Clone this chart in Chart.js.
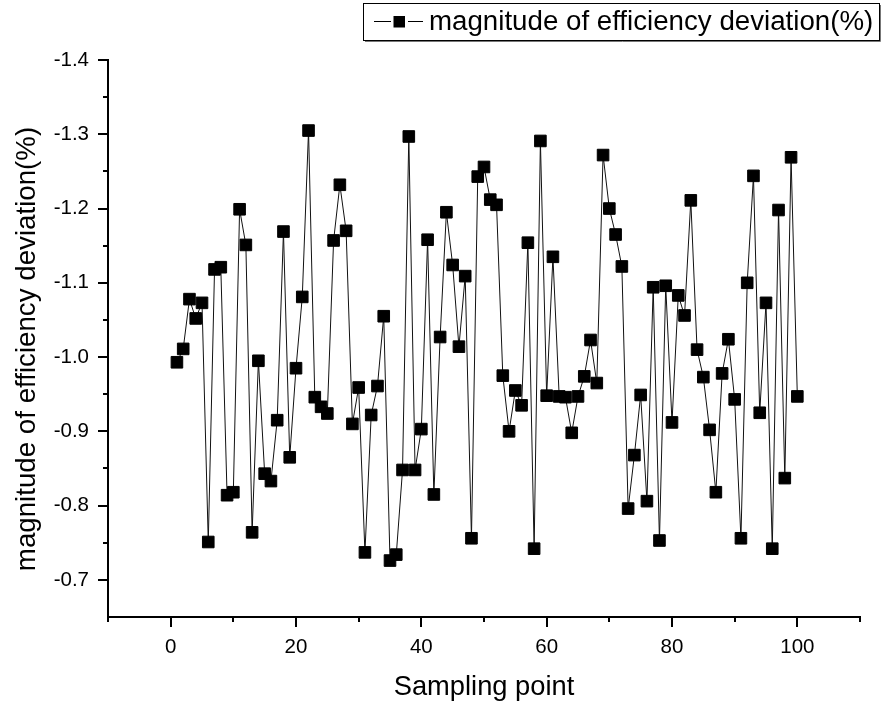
<!DOCTYPE html>
<html>
<head>
<meta charset="utf-8">
<title>magnitude of efficiency deviation</title>
<script src="https://cdn.jsdelivr.net/npm/chart.js@4/dist/chart.umd.min.js"></script>
<style>
  html, body { margin: 0; padding: 0; background: #fff; }
  canvas { display: block; }
</style>
</head>
<body>
<canvas id="chart" width="885" height="709"></canvas>
<script>
// Sampling point index (1..100)
const samplingPoints = Array.from({ length: 100 }, (_, i) => i + 1);

// Magnitude of efficiency deviation (%) at each sampling point
const deviation = [
  -0.993, -1.011, -1.078, -1.052, -1.073, -0.751, -1.118, -1.121, -0.814, -0.818,
  -1.199, -1.151, -0.764, -0.995, -0.843, -0.833, -0.915, -1.169, -0.865, -0.985,
  -1.081, -1.305, -0.946, -0.933, -0.924, -1.157, -1.232, -1.170, -0.910, -0.959,
  -0.737, -0.922, -0.961, -1.055, -0.726, -0.734, -0.848, -1.297, -0.848, -0.903,
  -1.158, -0.815, -1.027, -1.195, -1.124, -1.014, -1.109, -0.756, -1.243, -1.256,
  -1.212, -1.205, -0.975, -0.900, -0.955, -0.935, -1.154, -0.742, -1.291, -0.948,
  -1.135, -0.947, -0.946, -0.898, -0.947, -0.974, -1.023, -0.965, -1.272, -1.200,
  -1.165, -1.122, -0.796, -0.868, -0.949, -0.806, -1.094, -0.753, -1.096, -0.912,
  -1.083, -1.056, -1.211, -1.010, -0.973, -0.902, -0.818, -0.978, -1.024, -0.943,
  -0.756, -1.100, -1.244, -0.925, -1.073, -0.742, -1.198, -0.837, -1.269, -0.947
];

// Axis tick values
const xMajorTicks = [0, 20, 40, 60, 80, 100];
const xMinorTicks = [-10, 10, 30, 50, 70, 90, 110];
const yMajorTicks = [-1.4, -1.3, -1.2, -1.1, -1.0, -0.9, -0.8, -0.7];
const yMinorTicks = [-1.35, -1.25, -1.15, -1.05, -0.95, -0.85, -0.75];

const seriesName = 'magnitude of efficiency deviation(%)';
const xTitle = 'Sampling point';
const yTitle = 'magnitude of efficiency deviation(%)';

const FONT = '"Liberation Sans", Arial, Helvetica, sans-serif';
Chart.defaults.font.family = FONT;
Chart.defaults.color = '#000';

// Outward tick marks: long for labelled ticks, short in between
const tickMarks = {
  id: 'tickMarks',
  afterDraw(chart) {
    const { ctx, chartArea: a } = chart;
    const xs = chart.scales.x, ys = chart.scales.y;
    ctx.save();
    ctx.strokeStyle = '#000';
    ctx.lineWidth = 2;
    ctx.beginPath();
    const draw = (vals, len, horiz) => {
      vals.forEach(v => {
        if (horiz) {
          const px = Math.round(xs.getPixelForValue(v));
          ctx.moveTo(px, a.bottom);
          ctx.lineTo(px, a.bottom + len);
        } else {
          const py = Math.round(ys.getPixelForValue(v));
          ctx.moveTo(a.left, py);
          ctx.lineTo(a.left - len, py);
        }
      });
    };
    draw(xMajorTicks, 10, true);
    draw(xMinorTicks, 5, true);
    draw(yMajorTicks, 10, false);
    draw(yMinorTicks, 5, false);
    ctx.stroke();
    ctx.restore();
  }
};

// Rotated y-axis title and the boxed legend in the top right corner
const annotations = {
  id: 'annotations',
  afterDraw(chart) {
    const { ctx } = chart;
    ctx.save();
    ctx.fillStyle = '#000';
    ctx.font = '27.7px ' + FONT;
    ctx.textAlign = 'center';
    ctx.textBaseline = 'middle';
    ctx.translate(27, 349);
    ctx.rotate(-Math.PI / 2);
    ctx.fillText(yTitle, 0, 0);
    ctx.restore();

    // legend box
    const bx = 363, by = 3, bw = 516, bh = 37;
    ctx.save();
    ctx.fillStyle = '#fff';
    ctx.fillRect(bx, by, bw, bh);
    ctx.strokeStyle = '#000';
    ctx.lineWidth = 1;
    ctx.strokeRect(bx + 0.5, by + 0.5, bw, bh);
    ctx.strokeStyle = '#777';
    ctx.beginPath();
    ctx.moveTo(bx + bw + 1.5, by + 2);
    ctx.lineTo(bx + bw + 1.5, by + bh + 1.5);
    ctx.lineTo(bx + 2, by + bh + 1.5);
    ctx.stroke();

    const ly = by + 18.5;
    ctx.strokeStyle = '#000';
    ctx.beginPath();
    ctx.moveTo(374, ly); ctx.lineTo(391, ly);
    ctx.moveTo(408, ly); ctx.lineTo(423, ly);
    ctx.stroke();
    ctx.fillStyle = '#000';
    ctx.fillRect(393.5, ly - 5.5, 11.5, 11.5);

    ctx.font = '27.7px ' + FONT;
    ctx.textAlign = 'left';
    ctx.textBaseline = 'middle';
    ctx.fillText(seriesName, 429, ly + 1);
    ctx.restore();
  }
};

new Chart(document.getElementById('chart'), {
  type: 'line',
  data: {
    datasets: [{
      label: seriesName,
      data: samplingPoints.map((p, i) => ({ x: p, y: deviation[i] })),
      borderColor: '#111',
      borderWidth: 1,
      backgroundColor: '#000',
      pointStyle: 'rect',
      pointRadius: 8.2,
      pointBorderWidth: 1,
      pointBorderColor: '#000',
      pointBackgroundColor: '#000',
      tension: 0,
      clip: false
    }]
  },
  options: {
    responsive: false,
    animation: false,
    devicePixelRatio: 1,
    layout: { padding: { top: 60, right: 25, left: 0, bottom: 0 } },
    plugins: {
      legend: { display: false },
      tooltip: { enabled: false }
    },
    scales: {
      x: {
        type: 'linear',
        min: -10,
        max: 110,
        grid: { display: false, drawTicks: false },
        border: { display: true, color: '#000', width: 2 },
        afterBuildTicks: s => { s.ticks = xMajorTicks.map(v => ({ value: v })); },
        afterFit: s => { s.height = 92; },
        ticks: {
          color: '#000',
          font: { size: 20.5 },
          padding: 18,
          maxRotation: 0,
          callback: v => String(v)
        },
        title: {
          display: true,
          text: xTitle,
          color: '#000',
          font: { size: 27.3 },
          padding: { top: 0, bottom: 5 }
        }
      },
      y: {
        type: 'linear',
        reverse: true,
        min: -1.4,
        max: -0.65,
        grid: { display: false, drawTicks: false },
        border: { display: true, color: '#000', width: 2 },
        afterBuildTicks: s => { s.ticks = yMajorTicks.map(v => ({ value: v })); },
        afterFit: s => { s.width = 108; },
        ticks: {
          color: '#000',
          font: { size: 20.5 },
          padding: 19,
          callback: v => Number(v).toFixed(1)
        }
      }
    }
  },
  plugins: [tickMarks, annotations]
});
</script>
</body>
</html>
